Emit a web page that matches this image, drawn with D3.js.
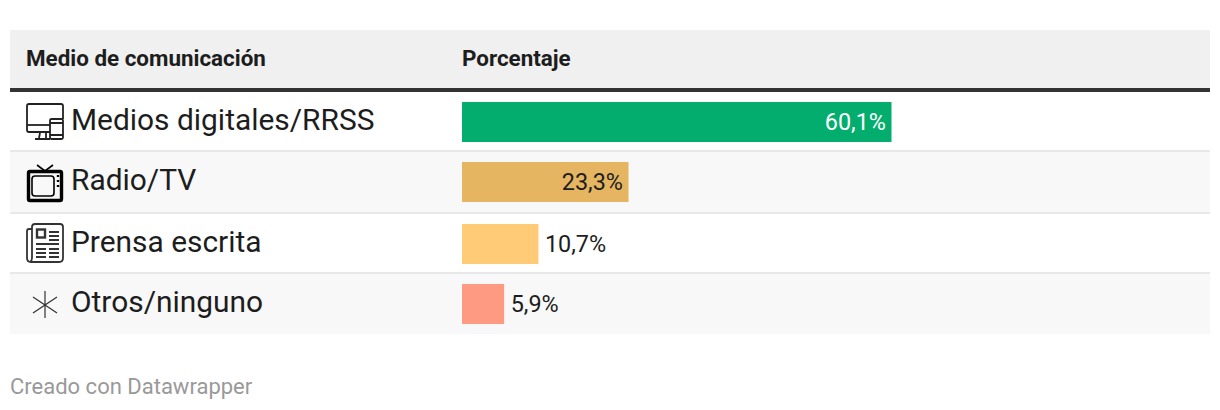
<!DOCTYPE html>
<html>
<head>
<meta charset="utf-8">
<script src="https://cdnjs.cloudflare.com/ajax/libs/d3/7.8.5/d3.min.js"></script>
<style>
  html, body { margin: 0; padding: 0; background: #fff; }
  svg { display: block; font-family: Roboto, sans-serif; }
  .head { font-size: 22.4px; font-weight: 700; fill: #1d1d1d; }
  .name { font-size: 29.9px; fill: #1d1d1d; }
  .val { font-size: 23.4px; }
  .credit { font-size: 22px; fill: #999; }
</style>
</head>
<body>
<div id="chart"></div>
<script>
// data
const categories = ['Medios digitales/RRSS', 'Radio/TV', 'Prensa escrita', 'Otros/ninguno'];
const values = [60.1, 23.3, 10.7, 5.9];
const barColors = ['#02ad6d', '#e5b562', '#ffcb77', '#fe9a82'];
const headers = ['Medio de comunicación', 'Porcentaje'];
const credit = 'Creado con Datawrapper';

const width = 1220, height = 410;
const tableLeft = 10, tableRight = 1210;
const barLeft = 462, barRight = 891.5;

// row tops and heights as measured
const rowTops = [92, 152, 214, 274];
const rowHeights = [58, 60, 58, 60];

const svg = d3.select('#chart').append('svg')
  .attr('width', width)
  .attr('height', height);

const xScale = d3.scaleLinear()
  .domain([0, d3.max(values)])
  .range([barLeft, barRight]);

const fmt = v => v.toFixed(1).replace('.', ',') + '%';

// header
svg.append('rect')
  .attr('x', tableLeft).attr('y', 30)
  .attr('width', tableRight - tableLeft).attr('height', 58)
  .attr('fill', '#f0f0f0');
svg.append('rect')
  .attr('x', tableLeft).attr('y', 88)
  .attr('width', tableRight - tableLeft).attr('height', 4)
  .attr('fill', '#333');
svg.append('text').attr('class', 'head').attr('x', 26).attr('y', 66).text(headers[0]);
svg.append('text').attr('class', 'head').attr('x', barLeft).attr('y', 66).text(headers[1]);

// rows
const rows = svg.selectAll('.row')
  .data(categories.map((name, i) => ({ name, value: values[i], color: barColors[i], i })))
  .enter().append('g')
  .attr('class', 'row')
  .attr('transform', d => `translate(0,${rowTops[d.i]})`);

rows.append('rect')
  .attr('x', tableLeft)
  .attr('width', tableRight - tableLeft)
  .attr('height', d => rowHeights[d.i])
  .attr('fill', d => d.i % 2 ? '#f8f8f8' : '#fff');

// row separators
rows.filter(d => d.i < categories.length - 1).append('rect')
  .attr('x', tableLeft)
  .attr('y', d => rowHeights[d.i])
  .attr('width', tableRight - tableLeft)
  .attr('height', 2)
  .attr('fill', '#e8e8e8');

rows.append('text')
  .attr('class', 'name')
  .attr('x', 71)
  .attr('y', 38)
  .text(d => d.name);

rows.append('rect')
  .attr('x', barLeft)
  .attr('y', 10)
  .attr('width', d => xScale(d.value) - barLeft)
  .attr('height', 40)
  .attr('fill', d => d.color);

// labels go inside the bar when the bar is long enough
rows.append('text')
  .attr('class', 'val')
  .attr('y', 38)
  .attr('x', d => d.value > 20 ? xScale(d.value) - 5.5 : xScale(d.value) + 6.5)
  .attr('text-anchor', d => d.value > 20 ? 'end' : 'start')
  .attr('fill', d => d.i === 0 ? '#fff' : '#1d1d1d')
  .text(d => fmt(d.value));

svg.append('text').attr('class', 'credit').attr('x', 10).attr('y', 394).text(credit);

// icons, one group per row, local origin at the left of the icon box
const icons = rows.append('g')
  .attr('class', 'icon')
  .attr('transform', 'translate(26,0)')
  .attr('fill', 'none')
  .attr('stroke', '#222');

// devices
const devices = icons.filter(d => d.i === 0).attr('stroke-width', 1.8);
devices.append('path').attr('d', 'M24 40H3Q1 40 1 38V14Q1 12 3 12H35Q37 12 37 14V27');
devices.append('path').attr('d', 'M1 33H24');
devices.append('path').attr('d', 'M14 41L13 46M20 41V46M9 47H24');
devices.append('rect').attr('x', 24).attr('y', 27).attr('width', 13).attr('height', 20).attr('rx', 1.5);
devices.append('path').attr('d', 'M24 31H37M24 43H37');

// tv
const tv = icons.filter(d => d.i === 1).attr('stroke', '#000');
tv.append('rect').attr('x', 2.5).attr('y', 19.5).attr('width', 33).attr('height', 29).attr('rx', 1.5)
  .attr('stroke-width', 3.4);
tv.append('rect').attr('x', 6).attr('y', 24).attr('width', 22).attr('height', 20).attr('rx', 3)
  .attr('stroke-width', 1.6);
tv.append('path').attr('d', 'M11 13L19 19L27 13').attr('stroke-width', 1.6);
tv.append('path').attr('d', 'M32 23V25M32 28V30M32 33V35').attr('stroke-width', 2.4);

// newspaper
const news = icons.filter(d => d.i === 2).attr('stroke', '#333').attr('stroke-width', 1.8);
news.append('path').attr('d', 'M6 15H3Q1 15 1 17V44Q1 48 5 48H33Q37 48 37 44V13Q37 10 34 10H9Q6 10 6 13V44Q6 47 4 48');
news.append('rect').attr('x', 11).attr('y', 15.5).attr('width', 8).attr('height', 8).attr('stroke-width', 2.4);
news.append('path').attr('d', 'M23 18H33M23 22H33M23 26H33M10 30H33M10 35H20M23 35H33M10 39H20M23 39H33M10 43H20M23 43H33');

// asterisk
const other = icons.filter(d => d.i === 3).attr('stroke', '#333').attr('stroke-width', 1.2);
other.append('path').attr('d', 'M19 17V44M7 23L31 39M7 39L31 23');
</script>
</body>
</html>
